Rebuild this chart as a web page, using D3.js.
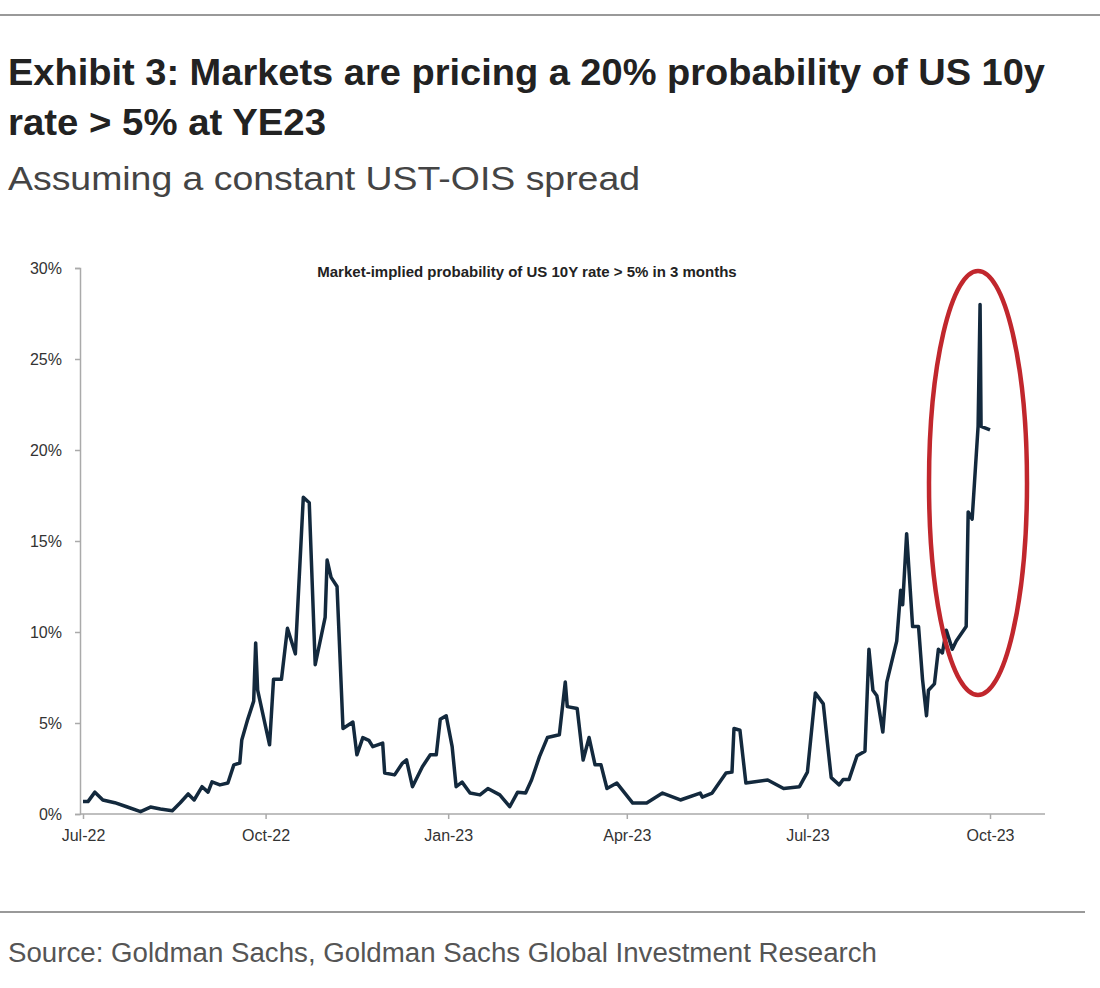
<html>
<head>
<script src="https://d3js.org/d3.v7.min.js"></script>
<style>
body { margin:0; background:#fff; }
text { font-family: "Liberation Sans Narrow", "Liberation Sans", Arial, sans-serif; }
</style>
</head>
<body>
<script>
// days since 1 Jul 2022, and probability in %
var days = [0,2.5,6,10,16,22,29,34,39,45,49,53,56,60,63,65,69,73,76,79,80,83,86,87,88,94,96,100,103,107,111,114,117,122,123,125,128,131,136,138,141,144,146,151,152,157,161,163,166,171,175,178,180,183,186,188,191,195,200,204,210,215,219,223,226,230,234,240,243,244,249,252,255,258,261,264,269,277,284,292,301,311,312,317,324,327,328,331,334,345,353,361,365,369,373,375,377,381,383,386,390,394,396,398,400,403,405,410,412,413,415,418,421,423,425,426,429,431,433,435,438,440,445,446,448,451,452,452.5,457];
var probs = [0.68,0.68,1.2,0.77,0.62,0.4,0.13,0.38,0.27,0.18,0.62,1.1,0.77,1.5,1.2,1.77,1.6,1.7,2.7,2.8,4.07,5.2,6.2,9.4,6.8,3.8,7.4,7.4,10.2,8.8,17.4,17.1,8.2,10.8,13.95,13.0,12.5,4.7,5.05,3.25,4.2,4.05,3.7,3.9,2.25,2.15,2.8,2.97,1.5,2.6,3.25,3.25,5.2,5.4,3.7,1.5,1.75,1.15,1.05,1.4,1.05,0.4,1.2,1.15,1.87,3.15,4.2,4.35,7.25,5.9,5.8,2.97,4.2,2.7,2.7,1.4,1.7,0.6,0.6,1.15,0.77,1.15,0.93,1.15,2.25,2.3,4.7,4.6,1.7,1.87,1.4,1.5,2.3,6.65,6.05,4.0,2.0,1.6,1.9,1.9,3.2,3.45,9.05,6.8,6.5,4.5,7.25,9.5,12.3,11.5,15.4,10.3,10.3,7.4,5.4,6.8,7.15,9.05,8.85,10.1,9.05,9.5,10.3,16.6,16.2,21.3,28.0,21.3,21.1];
var xTickLabels = ["Jul-22","Oct-22","Jan-23","Apr-23","Jul-23","Oct-23"];
var xTickDates = ["2022-07-01","2022-10-01","2023-01-01","2023-04-01","2023-07-01","2023-10-01"];
var yTicks = [0,5,10,15,20,25,30];

var start = new Date(2022,6,1);
var parse = d3.timeParse("%Y-%m-%d");
var data = days.map(function(d,i){ return {date: d3.timeHour.offset(start, Math.round(d*24)), v: probs[i]}; });

var svg = d3.select("body").append("svg").attr("width",1100).attr("height",988);

svg.append("line").attr("x1",0).attr("x2",1100).attr("y1",15).attr("y2",15).attr("stroke","#999").attr("stroke-width",2);
svg.append("text").attr("x",8).attr("y",85).attr("font-size",37).attr("font-weight","bold").attr("fill","#222")
   .attr("textLength",1037).attr("lengthAdjust","spacingAndGlyphs")
   .text("Exhibit 3: Markets are pricing a 20% probability of US 10y");
svg.append("text").attr("x",8).attr("y",135).attr("font-size",37).attr("font-weight","bold").attr("fill","#222")
   .attr("textLength",318).attr("lengthAdjust","spacingAndGlyphs")
   .text("rate > 5% at YE23");
svg.append("text").attr("x",8).attr("y",190).attr("font-size",34).attr("fill","#444")
   .attr("textLength",632).attr("lengthAdjust","spacingAndGlyphs")
   .text("Assuming a constant UST-OIS spread");

var x = d3.scaleTime().domain([start, parse("2023-10-01")]).range([83,990]);
var y = d3.scaleLinear().domain([0,30]).range([814,268]);

var ya = svg.append("g").attr("transform","translate(80,0)")
   .call(d3.axisLeft(y).tickValues(yTicks).tickSize(5).tickFormat(function(d){return d+"%";}));
var xa = svg.append("g").attr("transform","translate(0,814)")
   .call(d3.axisBottom(x).tickValues(xTickDates.map(parse)).tickSize(5).tickFormat(function(d,i){return xTickLabels[i];}));
xa.select(".domain").attr("d","M80,0H1045");
[ya,xa].forEach(function(a){
   a.selectAll("path,line").attr("stroke","#aaa").attr("stroke-width",1.5);
   a.selectAll("text").attr("font-size",16).attr("fill","#333").style("font-family","Liberation Sans, Arial, sans-serif");
});
ya.selectAll("text").attr("x",-18);
xa.selectAll("text").attr("y",16);

svg.append("text").attr("x",527).attr("y",277).attr("text-anchor","middle").attr("font-size",15).attr("font-weight","bold")
   .attr("fill","#222").style("font-family","Liberation Sans, Arial, sans-serif")
   .text("Market-implied probability of US 10Y rate > 5% in 3 months");

svg.append("path").datum(data).attr("fill","none").attr("stroke","#13293d").attr("stroke-width",3.5)
   .attr("stroke-linejoin","round")
   .attr("d", d3.line().x(function(d){return x(d.date);}).y(function(d){return y(d.v);}));

svg.append("ellipse").attr("cx",978).attr("cy",483).attr("rx",49).attr("ry",212)
   .attr("fill","none").attr("stroke","#c1272d").attr("stroke-width",4.5);

svg.append("line").attr("x1",0).attr("x2",1085).attr("y1",912).attr("y2",912).attr("stroke","#999").attr("stroke-width",2);
svg.append("text").attr("x",8).attr("y",962).attr("font-size",27).attr("fill","#555")
   .attr("textLength",869).attr("lengthAdjust","spacingAndGlyphs")
   .text("Source: Goldman Sachs, Goldman Sachs Global Investment Research");
</script>
</body>
</html>
